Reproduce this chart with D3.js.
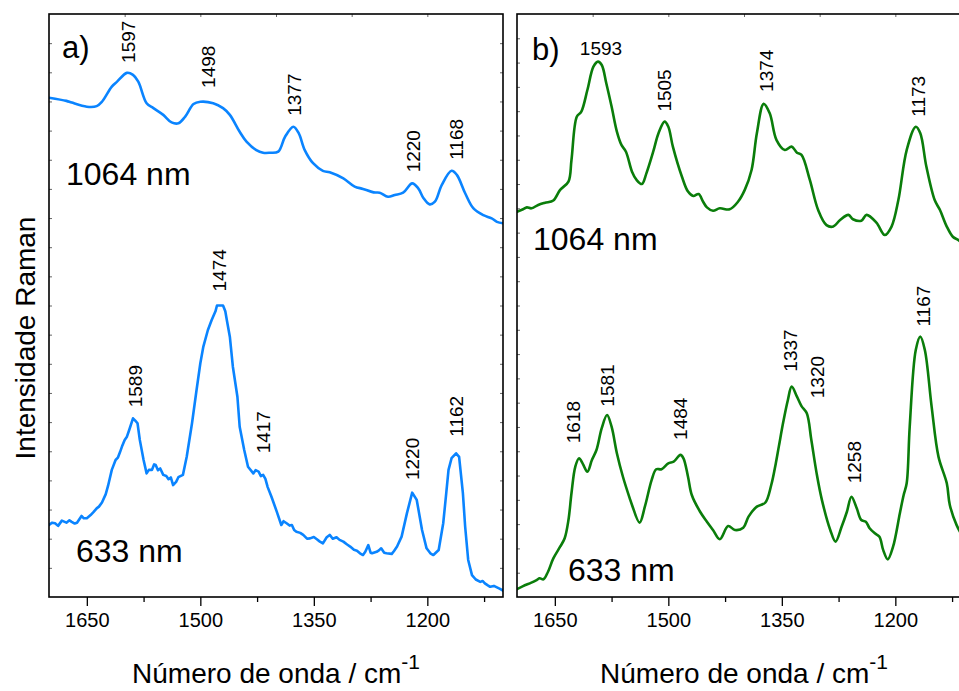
<!DOCTYPE html>
<html>
<head>
<meta charset="utf-8">
<script src="https://cdn.jsdelivr.net/npm/d3@7"></script>
<style>
  html, body { margin: 0; padding: 0; background: #fff; }
  svg { display: block; }
  text { font-family: "Liberation Sans", Arial, Helvetica, sans-serif; fill: #000; }
</style>
</head>
<body>
<svg id="chart" width="959" height="691"></svg>
<script>
// ---- Spectra (wavenumber in cm-1, intensity in arbitrary units) ----
const wnA1064 = [1700,1677,1670,1650,1637,1630,1617,1610,1597,1589,1582,1571,1562,1549,1538,1529,1520,1509,1500,1483,
  1470,1461,1448,1439,1426,1417,1408,1397,1388,1377,1370,1362,1351,1338,1329,1311,1296,1285,1271,1263,
  1252,1243,1232,1220,1212,1205,1197,1190,1181,1168,1161,1150,1139,1126,1115,1108,1100];
const intA1064 = [17.13,17.02,16.96,16.82,16.84,16.99,17.51,17.68,17.98,17.91,17.68,16.94,16.77,16.54,16.28,16.25,16.48,16.91,16.99,16.94,
  16.77,16.54,15.96,15.62,15.33,15.24,15.24,15.28,15.79,16.13,15.91,15.33,14.88,14.62,14.57,14.36,14.08,14.00,13.88,13.87,
  13.73,13.79,13.87,14.19,14.02,13.68,13.47,13.56,14.13,14.62,14.48,13.85,13.33,13.10,12.99,12.87,12.82];

const wnA633 = [1700,1696,1692,1688,1683,1677,1673,1670,1666,1663,1657,1654,1650,1645,1641,1637,1634,1630,1625,1622,
  1617,1612,1609,1606,1603,1600,1597,1594,1589,1586,1583,1580,1575,1571,1568,1564,1561,1559,1556,1553,
  1549,1545,1542,1539,1536,1532,1529,1523,1518,1511,1505,1500,1496,1490,1485,1480,1478,1474,1470,1467,1465,1461,
  1457,1451,1448,1442,1437,1430,1427,1423,1420,1417,1414,1411,1406,1399,1393,1390,1386,1382,1379,1376,
  1373,1368,1364,1359,1355,1350,1346,1342,1338,1333,1329,1325,1320,1316,1311,1306,1302,1297,1293,1289,
  1285,1282,1278,1275,1273,1267,1264,1261,1257,1254,1247,1244,1240,1234,1227,1220,1214,1207,1201,1196,
  1192,1185,1179,1175,1172,1168,1162,1158,1153,1150,1146,1141,1136,1130,1127,1124,1120,1117,1112,1108,
  1104,1100];
const intA633 = [2.47,2.55,2.53,2.44,2.62,2.55,2.63,2.58,2.52,2.55,2.78,2.70,2.70,2.81,2.92,3.04,3.10,3.24,3.53,3.81,
  4.36,4.70,4.78,4.98,5.20,5.39,5.50,5.73,6.13,6.05,5.96,5.39,4.70,4.24,4.36,4.36,4.55,4.53,4.35,4.41,
  4.19,4.15,4.04,4.10,3.84,3.95,4.11,4.19,4.81,5.96,7.10,8.02,8.59,9.16,9.50,9.80,10.00,10.00,10.00,9.80,9.50,8.93,
  7.90,6.87,5.84,5.04,4.47,4.24,4.35,4.30,4.15,4.19,4.05,3.77,3.44,2.93,2.47,2.60,2.53,2.45,2.47,2.30,
  2.24,2.20,2.13,2.00,2.01,2.06,1.98,1.90,1.84,2.05,2.13,2.00,2.05,1.96,1.90,1.80,1.73,1.62,1.59,1.50,
  1.44,1.55,1.78,1.52,1.50,1.55,1.60,1.67,1.52,1.50,1.48,1.58,1.73,2.07,2.87,3.58,3.33,2.30,1.67,1.50,
  1.44,1.61,2.53,3.56,4.36,4.76,4.93,4.81,3.56,2.41,1.27,0.75,0.60,0.52,0.55,0.47,0.40,0.35,0.38,0.33,
  0.28,0.22];

const wnB1064 = [1700,1692,1687,1681,1672,1663,1652,1643,1632,1628,1621,1615,1607,1599,1593,1588,1582,1575,1568,1562,
  1556,1548,1542,1535,1529,1520,1513,1505,1500,1494,1482,1474,1467,1460,1454,1449,1441,1432,1419,1408,
  1399,1390,1383,1374,1366,1357,1346,1337,1330,1324,1313,1302,1291,1282,1273,1262,1256,1245,1238,1225,
  1214,1205,1196,1185,1173,1167,1159,1148,1141,1132,1124,1117,1108,1100];
const intB1064 = [15.86,15.96,16.04,16.00,16.14,16.23,16.32,16.76,17.10,17.99,19.77,19.98,20.87,21.83,22.04,21.90,21.15,20.19,19.16,18.61,
  18.33,17.51,17.17,17.00,17.44,18.33,19.09,19.57,19.36,18.54,17.30,16.69,16.51,16.59,16.27,16.04,15.90,16.00,15.96,16.27,
  16.76,17.58,19.09,20.30,19.91,18.81,18.40,18.54,18.29,18.20,17.17,15.93,15.31,15.25,15.52,15.73,15.55,15.49,15.73,15.41,
  14.90,15.25,16.34,18.40,19.36,19.09,17.72,16.34,15.93,15.25,14.83,14.70,14.49,14.37];

const wnB633 = [1700,1692,1681,1674,1670,1665,1659,1652,1643,1637,1632,1628,1623,1618,1613,1607,1601,1595,1588,1581,
  1575,1568,1560,1551,1548,1538,1531,1522,1516,1509,1500,1493,1484,1480,1474,1469,1458,1449,1441,1432,
  1421,1412,1401,1394,1383,1372,1364,1358,1354,1348,1342,1337,1330,1324,1317,1311,1304,1297,1286,1279,
  1271,1264,1258,1251,1245,1239,1234,1227,1221,1216,1210,1203,1194,1189,1185,1181,1173,1167,1161,1152,
  1143,1132,1128,1119,1108,1100];
const intB633 = [0.32,0.45,0.59,0.70,0.77,0.73,1.04,1.59,2.07,2.42,3.17,4.27,5.36,5.71,5.48,5.16,5.64,6.05,6.95,7.49,
  7.01,5.92,4.95,4.06,3.79,3.06,3.72,4.82,5.26,5.26,5.50,5.57,5.85,5.71,4.95,4.20,3.51,3.10,2.76,2.38,
  2.92,2.76,2.85,3.31,3.72,3.88,4.61,5.50,6.19,7.22,8.11,8.66,8.25,7.86,7.56,6.46,5.09,3.99,2.76,2.28,
  2.89,3.51,4.13,3.65,3.17,3.10,2.83,2.62,2.48,1.93,1.55,2.07,3.45,4.20,4.68,7.01,10.17,10.72,10.17,7.83,
  5.78,4.68,3.79,2.96,2.35,2.02];

// ---- Peak annotations (cm-1) ----
const peaksA1064 = [1597, 1498, 1377, 1220, 1168];
const peaksA633  = [1589, 1474, 1417, 1220, 1162];
const peaksB1064 = [1593, 1505, 1374, 1173];
const peaksB633  = [1618, 1581, 1484, 1337, 1320, 1258, 1167];

// ---- Axis ticks ----
const xDomain = [1700, 1100];
const majorTicks = [1650, 1500, 1350, 1200];
const minorTicks = [1575, 1425, 1275, 1125];
const topTicks = [1600, 1500, 1400, 1300, 1200];

// ---- Layout ----
const plotTop = 14, plotBottom = 597;
const panels = [
  { tag: 'a)', tagX: 62, tagY: 58, left: 49, right: 503, yMax: 20, color: '#0a84ff',
    spectra: [
      { key: 'a1064', wn: wnA1064, val: intA1064, peaks: peaksA1064, name: '1064 nm', nx: 66, ny: 185, curve: d3.curveCatmullRom },
      { key: 'a633',  wn: wnA633,  val: intA633,  peaks: peaksA633,  name: '633 nm',  nx: 76, ny: 562, curve: d3.curveLinear }
    ] },
  { tag: 'b)', tagX: 532, tagY: 60, left: 517, right: 971, yMax: 24, color: '#0a7d0a',
    spectra: [
      { key: 'b1064', wn: wnB1064, val: intB1064, peaks: peaksB1064, name: '1064 nm', nx: 533, ny: 250, curve: d3.curveCatmullRom },
      { key: 'b633',  wn: wnB633,  val: intB633,  peaks: peaksB633,  name: '633 nm',  nx: 568, ny: 581, curve: d3.curveCatmullRom }
    ] }
];

// label placement: default offset from the curve, plus per-label adjustments [dx, extra gap]
const labelGap = 11, labelDx = 1.5;
const labelNudge = {
  'a1064-1597': [0, -1], 'a1064-1498': [5.5, 3], 'a1064-1168': [3, 0],
  'a633-1589': [1, 0], 'a633-1474': [-2.5, 3], 'a633-1417': [-1, 10.5], 'a633-1220': [-1, 1.6], 'a633-1162': [-1.5, 5.6],
  'b1064-1505': [-2, -1], 'b1064-1374': [1, 1], 'b1064-1173': [1.7, -1],
  'b633-1618': [-7.5, 4], 'b633-1581': [-1, -2.6], 'b633-1484': [-1.5, 4], 'b633-1337': [-2.5, 4],
  'b633-1320': [11.5, 1], 'b633-1258': [2, 2.4], 'b633-1167': [2, -1]
};
const horizontalLabels = new Set(['b1064-1593']);

const svg = d3.select('#chart');

// linear interpolation of a spectrum at a given wavenumber (wn sorted descending)
function valueAt(wn, val, w) {
  for (let i = 0; i < wn.length - 1; i++) {
    if (w <= wn[i] && w >= wn[i + 1]) {
      const t = (wn[i] - w) / (wn[i] - wn[i + 1]);
      return val[i] + t * (val[i + 1] - val[i]);
    }
  }
  return val[val.length - 1];
}

panels.forEach((p, pi) => {
  const x = d3.scaleLinear().domain(xDomain).range([p.left, p.right]);
  const y = d3.scaleLinear().domain([0, p.yMax]).range([plotBottom, plotTop]);
  const g = svg.append('g');

  const clipId = 'clip' + pi;
  svg.append('clipPath').attr('id', clipId)
    .append('rect').attr('x', p.left).attr('y', plotTop)
    .attr('width', p.right - p.left).attr('height', plotBottom - plotTop);

  // spectra
  p.spectra.forEach(s => {
    const pts = s.wn.map((w, i) => [w, s.val[i]]);
    const line = d3.line().x(d => x(d[0])).y(d => y(d[1])).curve(s.curve);
    g.append('path').datum(pts)
      .attr('clip-path', `url(#${clipId})`)
      .attr('fill', 'none').attr('stroke', p.color)
      .attr('stroke-width', 2.6).attr('stroke-linejoin', 'round').attr('stroke-linecap', 'round')
      .attr('d', line);

    // laser line label
    g.append('text').attr('x', s.nx).attr('y', s.ny)
      .style('font-size', '32px').text(s.name);

    // peak labels
    s.peaks.forEach(w => {
      const key = s.key + '-' + w;
      const yv = y(valueAt(s.wn, s.val, w));
      if (horizontalLabels.has(key)) {
        g.append('text').attr('x', x(w) + 3).attr('y', yv - 6.6)
          .attr('text-anchor', 'middle').style('font-size', '19px').text(w);
      } else {
        const nd = labelNudge[key] || [0, 0];
        const lx = x(w) + labelDx + nd[0];
        const ly = yv - labelGap - nd[1];
        g.append('text')
          .attr('transform', `translate(${lx},${ly}) rotate(-90)`)
          .attr('text-anchor', 'start').attr('dominant-baseline', 'central')
          .style('font-size', '19px').text(w);
      }
    });
  });

  // bottom axis: labelled major ticks and unlabelled minor ticks, pointing outwards
  const bottomMajor = g.append('g').attr('transform', `translate(0,${plotBottom})`)
    .call(d3.axisBottom(x).tickValues(majorTicks).tickSize(9).tickPadding(7).tickFormat(d3.format('d')));
  const bottomMinor = g.append('g').attr('transform', `translate(0,${plotBottom})`)
    .call(d3.axisBottom(x).tickValues(minorTicks).tickSize(5).tickFormat(''));
  [bottomMajor, bottomMinor].forEach(a => {
    a.select('.domain').remove();
    a.selectAll('line').attr('stroke', '#000').attr('stroke-width', 1.3);
  });
  bottomMajor.selectAll('text').style('font-size', '20px')
    .style('font-family', '"Liberation Sans", Arial, sans-serif').attr('fill', '#000');

  // small inward ticks on the other sides
  const topAxis = g.append('g').attr('transform', `translate(0,${plotTop})`)
    .call(d3.axisTop(x).tickValues(topTicks).tickSize(-3).tickFormat(''));
  const leftAxis = g.append('g').attr('transform', `translate(${p.left},0)`)
    .call(d3.axisLeft(y).tickValues(d3.range(1, p.yMax)).tickSize(-3).tickFormat(''));
  const rightAxis = g.append('g').attr('transform', `translate(${p.right},0)`)
    .call(d3.axisRight(y).tickValues(d3.range(1, p.yMax)).tickSize(-3).tickFormat(''));
  [topAxis, leftAxis, rightAxis].forEach(a => {
    a.select('.domain').remove();
    a.selectAll('line').attr('stroke', '#666').attr('stroke-width', 1);
  });

  // frame
  g.append('rect').attr('x', p.left).attr('y', plotTop)
    .attr('width', p.right - p.left).attr('height', plotBottom - plotTop)
    .attr('fill', 'none').attr('stroke', '#000').attr('stroke-width', 1.6);

  // panel tag
  g.append('text').attr('x', p.tagX).attr('y', p.tagY).style('font-size', '31px').text(p.tag);

  // x-axis title
  const cx = (p.left + p.right) / 2;
  const title = g.append('text').attr('x', cx).attr('y', 683)
    .attr('text-anchor', 'middle').style('font-size', '28px');
  title.append('tspan').text('Número de onda / cm');
  title.append('tspan').attr('dy', -14).style('font-size', '21px').text('-1');
});

// y-axis title
svg.append('text')
  .attr('transform', 'translate(35,338) rotate(-90)')
  .attr('text-anchor', 'middle').style('font-size', '28px')
  .text('Intensidade Raman');
</script>
</body>
</html>
